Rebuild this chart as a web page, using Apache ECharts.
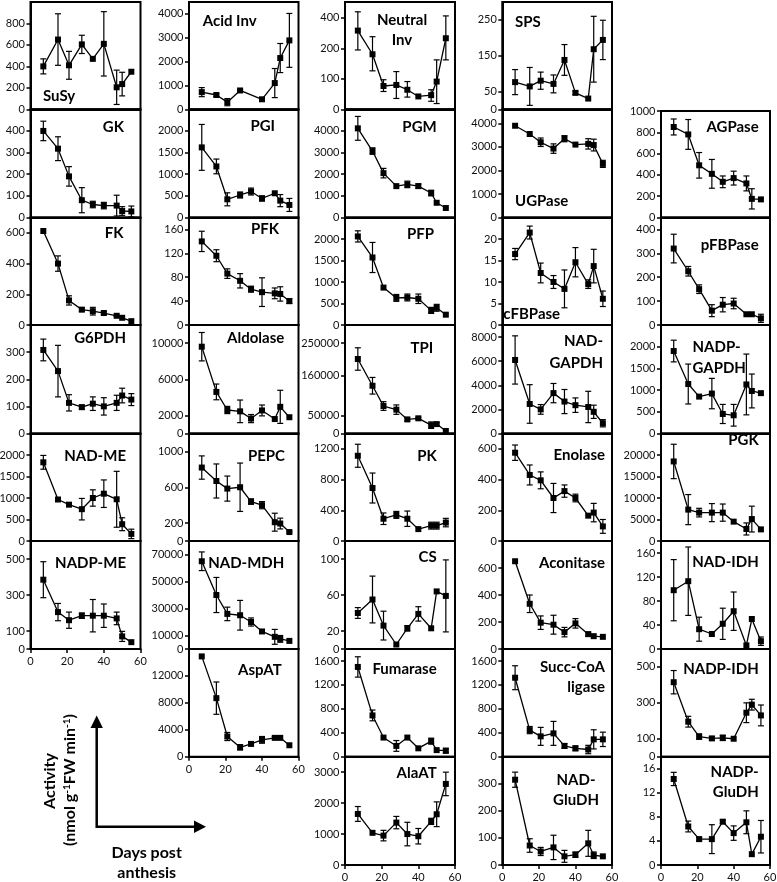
<!DOCTYPE html>
<html><head><meta charset="utf-8">
<script src="https://cdn.jsdelivr.net/npm/echarts@6.0.0/dist/echarts.min.js"></script>
<style>html,body{margin:0;padding:0;background:#fff}#c{width:777px;height:882px}</style>
</head><body><div id="c"></div>
<script>
// ---- data ----
const days = [7, 15, 21, 28, 34, 40, 47, 50, 55];
const ticks_days = [0, 20, 40, 60];

const SuSy = [400, 650, 410, 605, 470, 610, 205, 235, 350];
const SuSy_err = [70, 240, 130, 85, 0, 300, 160, 110, 0];
const GK = [400, 318, 190, 80, 60, 55, 55, 30, 28];
const GK_err = [45, 55, 45, 58, 15, 15, 48, 20, 25];
const FK = [612, 400, 160, 100, 90, 78, 60, 47, 25];
const FK_err = [0, 50, 30, 12, 25, 10, 5, 0, 0];
const G6PDH = [308, 230, 113, 97, 110, 100, 113, 140, 125];
const G6PDH_err = [40, 95, 30, 8, 25, 32, 28, 27, 22];
const NAD_ME = [1830, 965, 845, 740, 1000, 1100, 970, 390, 165];
const NAD_ME_err = [160, 0, 0, 250, 190, 320, 650, 150, 110];
const NADP_ME = [385, 205, 160, 185, 185, 185, 170, 70, 38];
const NADP_ME_err = [100, 48, 45, 15, 90, 65, 35, 28, 0];

const Acid_Inv = [720, 600, 300, 790, null, 420, 1100, 2150, 2890];
const Acid_Inv_err = [190, 60, 150, 30, 0, 0, 610, 610, 1130];
const PGI = [1620, 1180, 420, 520, 600, 440, 560, 390, 290];
const PGI_err = [530, 170, 150, 70, 80, 60, 0, 140, 150];
const PFK = [140, 116, 86, 74, 60, 55, 53, 52, 40];
const PFK_err = [17, 10, 8, 12, 5, 24, 9, 12, 4];
const Aldolase = [9600, 4600, 2600, 2450, 1650, 2550, 1600, 2950, 1800];
const Aldolase_err = [1570, 870, 400, 1250, 450, 600, 0, 1830, 0];
const PEPC = [820, 670, 585, 600, 440, 400, 210, 195, 100];
const PEPC_err = [130, 190, 140, 270, 30, 40, 100, 60, 10];
const NAD_MDH = [65000, 40000, 26000, 25000, 20000, 13000, 9000, 7500, 6000];
const NAD_MDH_err = [6900, 13000, 5000, 11000, 3000, 0, 5500, 2500, 0];
const AspAT = [14900, 8700, 3000, 1400, 1900, 2500, 2800, 2800, 1700];
const AspAT_err = [0, 2400, 600, 400, 250, 500, 200, 0, 0];

const Neutral_Inv = [300, 175, 85, 87, 78, 67, 69, 94, 252];
const Neutral_Inv_lo = [193, 120, 75, 64, 66, 67, 60, 57, 154];
const Neutral_Inv_hi = [460, 261, 98, 118, 94, 67, 78, 154, 419];
const PGM = [4120, 3070, 2050, 1450, 1530, 1450, 1130, 680, 440];
const PGM_err = [550, 150, 220, 0, 150, 100, 130, 0, 0];
const PFP = [2060, 1570, 870, 630, 640, 610, 340, 400, 240];
const PFP_err = [130, 350, 0, 80, 80, 110, 70, 80, 0];
const TPI = [206000, 132000, 76000, 66000, 39000, 42000, 23000, 26000, 7000];
const TPI_err = [31000, 23000, 12000, 13000, 4000, 3000, 9000, 4000, 0];
const PK = [1110, 690, 290, 340, 290, 155, 200, 200, 240];
const PK_err = [150, 195, 75, 45, 100, 0, 45, 45, 55];
const CS = [40, 55, 26, 5, 23, 39, 23, 64, 59];
const CS_err = [6, 26, 16, 0, 3, 8, 0, 0, 40];
const Fumarase = [1500, 690, 320, 180, 320, 140, 260, 110, 100];
const Fumarase_err = [170, 90, 0, 90, 0, 0, 50, 0, 40];
const AlaAT = [1650, 1040, 950, 1370, 1000, 930, 1410, 1640, 2620];
const AlaAT_err = [240, 0, 170, 200, 380, 250, 100, 400, 380];

const SPS = [76, 64, 80, 71, 138, 46, 30, 168, 194];
const SPS_err = [35, 53, 24, 25, 43, 5, 0, 92, 55];
const UGPase = [3900, 3550, 3200, 2930, 3350, 3100, 3130, 3080, 2280];
const UGPase_err = [0, 0, 180, 200, 130, 0, 220, 250, 150];
const cFBPase = [16.5, 21.5, 12.1, 10, 8.4, 14.6, 9.5, 13.7, 6.1];
const cFBPase_err = [1.3, 1.5, 2.3, 1.5, 4.4, 3.4, 1, 3.9, 1.8];
const NAD_GAPDH = [6100, 2450, 2000, 3350, 2650, 2350, 2200, 1800, 850];
const NAD_GAPDH_err = [2000, 1600, 400, 800, 1000, 600, 1300, 550, 300];
const Enolase = [575, 430, 395, 280, 325, 280, 165, 185, 95];
const Enolase_err = [50, 65, 55, 95, 40, 25, 0, 60, 45];
const Aconitase = [650, 335, 195, 180, 125, 190, 110, 95, 90];
const Aconitase_err = [0, 65, 50, 70, 35, 35, 15, 0, 0];
const Succ_CoA = [1320, 445, 340, 390, 180, 140, 120, 290, 290];
const Succ_CoA_err = [200, 60, 150, 200, 40, 40, 70, 160, 120];
const NAD_GluDH = [315, 72, 50, 65, 32, 38, 80, 36, 32];
const NAD_GluDH_err = [28, 25, 15, 45, 22, 10, 48, 12, 0];

const AGPase = [850, 780, 490, 410, 335, 370, 320, 175, 170];
const AGPase_err = [75, 140, 120, 135, 55, 65, 70, 95, 0];
const pFBPase = [320, 225, 150, 60, 85, 90, 45, 45, 28];
const pFBPase_err = [60, 20, 18, 25, 30, 22, 0, 0, 17];
const NADP_GAPDH = [1900, 1140, 850, 920, 450, 420, 1130, 980, 930];
const NADP_GAPDH_err = [250, 460, 0, 350, 220, 250, 700, 390, 0];
const PGK = [18500, 7300, 6600, 6600, 6600, 4500, 2800, 5100, 2700];
const PGK_err = [4000, 3500, 1000, 2100, 2000, 0, 1400, 3000, 0];
const NAD_IDH = [98, 113, 33, 25, 42, 63, 6, 50, 13];
const NAD_IDH_err = [51, 57, 20, 0, 26, 32, 0, 0, 7];
const NADP_IDH = [415, 195, 112, 102, 105, 100, 245, 290, 230];
const NADP_IDH_err = [65, 30, 15, 10, 15, 0, 55, 30, 58];
const NADP_GluDH = [14.3, 6.4, 4.3, 4.3, 7.2, 5.3, 7.1, 1.8, 4.7];
const NADP_GluDH_err = [1.1, 0.9, 0.3, 2.4, 0.3, 1.2, 1.9, 0, 2.7];

// tick values
const ticks_SuSy = [0, 200, 400, 600, 800];
const ticks_GK = [0, 100, 200, 300, 400];
const ticks_FK = [0, 200, 400, 600];
const ticks_G6PDH = [0, 100, 200, 300];
const ticks_NAD_ME = [0, 500, 1000, 1500, 2000];
const ticks_NADP_ME = [0, 100, 300, 500];
const ticks_Acid_Inv = [0, 1000, 2000, 3000, 4000];
const ticks_PGI = [0, 500, 1000, 1500, 2000];
const ticks_PFK = [0, 40, 80, 120, 160];
const ticks_Aldolase = [0, 2000, 6000, 10000];
const ticks_PEPC = [0, 200, 600, 1000];
const ticks_NAD_MDH = [0, 10000, 30000, 50000, 70000];
const ticks_AspAT = [0, 4000, 8000, 12000];
const ticks_Neutral_Inv = [50, 100, 200, 400];
const labels_Neutral_Inv = ['0', '100', '200', '400'];
const ticks_PGM = [0, 1000, 2000, 3000, 4000];
const ticks_PFP = [0, 500, 1000, 1500, 2000];
const ticks_TPI = [0, 50000, 160000, 250000];
const ticks_PK = [0, 400, 800, 1200];
const ticks_CS = [0, 20, 60, 100];
const ticks_Fumarase = [0, 400, 800, 1200, 1600];
const ticks_AlaAT = [0, 1000, 2000, 3000];
const ticks_SPS = [0, 50, 150, 250];
const ticks_UGPase = [0, 1000, 2000, 3000, 4000];
const ticks_cFBPase = [0, 5, 10, 15, 20];
const ticks_NAD_GAPDH = [0, 2000, 4000, 6000, 8000];
const ticks_Enolase = [0, 200, 400, 600];
const ticks_Aconitase = [0, 200, 400, 600];
const ticks_Succ_CoA = [0, 400, 800, 1200, 1600];
const ticks_NAD_GluDH = [0, 100, 200, 300];
const ticks_AGPase = [0, 200, 400, 600, 800, 1000];
const ticks_pFBPase = [0, 100, 200, 300, 400];
const ticks_NADP_GAPDH = [0, 500, 1000, 1500, 2000];
const ticks_PGK = [0, 5000, 10000, 15000, 20000];
const ticks_NAD_IDH = [0, 40, 80, 120, 160];
const ticks_NADP_IDH = [0, 100, 300, 500];
const ticks_NADP_GluDH = [0, 4, 8, 12, 16];

// ---- layout ----
const COLS = [[30.5, 140.5], [189, 298.5], [345, 455], [502.3, 612], [661, 770]];
const ROWS = [2, 109.3, 217.5, 325, 433.5, 541, 649, 756.7, 865];
const FONT = 'Lato, "Open Sans", sans-serif';

const panels = [
  {t: 'SuSy', c: 0, r: 0, v: SuSy, e: SuSy_err, max: 1000, k: ticks_SuSy, tx: 43, ty: 96, a: 'left'},
  {t: 'GK', c: 0, r: 1, v: GK, e: GK_err, max: 500, k: ticks_GK, tx: 124, ty: 126.7, a: 'right'},
  {t: 'FK', c: 0, r: 2, v: FK, e: FK_err, max: 700, k: ticks_FK, tx: 123.5, ty: 233.3, a: 'right'},
  {t: 'G6PDH', c: 0, r: 3, v: G6PDH, e: G6PDH_err, max: 400, k: ticks_G6PDH, tx: 126, ty: 338.3, a: 'right'},
  {t: 'NAD-ME', c: 0, r: 4, v: NAD_ME, e: NAD_ME_err, max: 2500, k: ticks_NAD_ME, tx: 126, ty: 455.7, a: 'right'},
  {t: 'NADP-ME', c: 0, r: 5, v: NADP_ME, e: NADP_ME_err, max: 600, k: ticks_NADP_ME, tx: 126, ty: 562.7, a: 'right', bottom: true},

  {t: 'Acid Inv', c: 1, r: 0, v: Acid_Inv, e: Acid_Inv_err, max: 4500, k: ticks_Acid_Inv, tx: 202.7, ty: 20.7, a: 'left'},
  {t: 'PGI', c: 1, r: 1, v: PGI, e: PGI_err, max: 2500, k: ticks_PGI, tx: 275, ty: 126, a: 'right'},
  {t: 'PFK', c: 1, r: 2, v: PFK, e: PFK_err, max: 180, k: ticks_PFK, tx: 279, ty: 229.3, a: 'right'},
  {t: 'Aldolase', c: 1, r: 3, v: Aldolase, e: Aldolase_err, max: 12000, k: ticks_Aldolase, tx: 284.3, ty: 338.3, a: 'right'},
  {t: 'PEPC', c: 1, r: 4, v: PEPC, e: PEPC_err, max: 1200, k: ticks_PEPC, tx: 285, ty: 456, a: 'right'},
  {t: 'NAD-MDH', c: 1, r: 5, v: NAD_MDH, e: NAD_MDH_err, max: 80000, k: ticks_NAD_MDH, tx: 284.3, ty: 563.3, a: 'right'},
  {t: 'AspAT', c: 1, r: 6, v: AspAT, e: AspAT_err, max: 16000, k: ticks_AspAT, tx: 281.7, ty: 670, a: 'right', bottom: true},

  {t: 'Neutral\nInv', c: 2, r: 0, v: Neutral_Inv, lo: Neutral_Inv_lo, hi: Neutral_Inv_hi, log: true, min: 50, max: 575,
   k: ticks_Neutral_Inv, lab: labels_Neutral_Inv, tx: 402, ty: 30.3, a: 'center', lh: 19.5},
  {t: 'PGM', c: 2, r: 1, v: PGM, e: PGM_err, max: 5000, k: ticks_PGM, tx: 436.7, ty: 127.3, a: 'right'},
  {t: 'PFP', c: 2, r: 2, v: PFP, e: PFP_err, max: 2500, k: ticks_PFP, tx: 434, ty: 234.3, a: 'right'},
  {t: 'TPI', c: 2, r: 3, v: TPI, e: TPI_err, max: 300000, k: ticks_TPI, tx: 433.3, ty: 348.3, a: 'right'},
  {t: 'PK', c: 2, r: 4, v: PK, e: PK_err, max: 1400, k: ticks_PK, tx: 436.7, ty: 455.7, a: 'right'},
  {t: 'CS', c: 2, r: 5, v: CS, e: CS_err, max: 120, k: ticks_CS, tx: 436.7, ty: 556.7, a: 'right'},
  {t: 'Fumarase', c: 2, r: 6, v: Fumarase, e: Fumarase_err, max: 1800, k: ticks_Fumarase, tx: 436.7, ty: 669.3, a: 'right'},
  {t: 'AlaAT', c: 2, r: 7, v: AlaAT, e: AlaAT_err, max: 3500, k: ticks_AlaAT, tx: 436.7, ty: 772.7, a: 'right', bottom: true},

  {t: 'SPS', c: 3, r: 0, v: SPS, e: SPS_err, max: 300, k: ticks_SPS, tx: 515, ty: 21.7, a: 'left'},
  {t: 'UGPase', c: 3, r: 1, v: UGPase, e: UGPase_err, max: 4600, k: ticks_UGPase, tx: 515, ty: 201, a: 'left'},
  {t: 'cFBPase', c: 3, r: 2, v: cFBPase, e: cFBPase_err, max: 25, k: ticks_cFBPase, tx: 503.3, ty: 314.3, a: 'left'},
  {t: 'NAD-\nGAPDH', c: 3, r: 3, v: NAD_GAPDH, e: NAD_GAPDH_err, max: 9000, k: ticks_NAD_GAPDH, tx: 603, ty: 352, a: 'right', lh: 22},
  {t: 'Enolase', c: 3, r: 4, v: Enolase, e: Enolase_err, max: 700, k: ticks_Enolase, tx: 605, ty: 455, a: 'right'},
  {t: 'Aconitase', c: 3, r: 5, v: Aconitase, e: Aconitase_err, max: 800, k: ticks_Aconitase, tx: 605, ty: 563.3, a: 'right'},
  {t: 'Succ-CoA\nligase', c: 3, r: 6, v: Succ_CoA, e: Succ_CoA_err, max: 1800, k: ticks_Succ_CoA, tx: 605, ty: 677, a: 'right', lh: 20.6},
  {t: 'NAD-\nGluDH', c: 3, r: 7, v: NAD_GluDH, e: NAD_GluDH_err, max: 400, k: ticks_NAD_GluDH, tx: 576, ty: 790.3, a: 'center', lh: 20.7, bottom: true},

  {t: 'AGPase', c: 4, r: 1, top: 111, v: AGPase, e: AGPase_err, max: 1000, k: ticks_AGPase, tx: 758.7, ty: 127.3, a: 'right'},
  {t: 'pFBPase', c: 4, r: 2, v: pFBPase, e: pFBPase_err, max: 450, k: ticks_pFBPase, tx: 758.7, ty: 245, a: 'right'},
  {t: 'NADP-\nGAPDH', c: 4, r: 3, v: NADP_GAPDH, e: NADP_GAPDH_err, max: 2500, k: ticks_NADP_GAPDH, tx: 692.5, ty: 357.8, a: 'left', lh: 21},
  {t: 'PGK', c: 4, r: 4, v: PGK, e: PGK_err, max: 25000, k: ticks_PGK, tx: 758.7, ty: 440, a: 'right'},
  {t: 'NAD-IDH', c: 4, r: 5, v: NAD_IDH, e: NAD_IDH_err, max: 180, k: ticks_NAD_IDH, tx: 758.7, ty: 561.7, a: 'right'},
  {t: 'NADP-IDH', c: 4, r: 6, v: NADP_IDH, e: NADP_IDH_err, max: 600, k: ticks_NADP_IDH, tx: 758.7, ty: 669.3, a: 'right'},
  {t: 'NADP-\nGluDH', c: 4, r: 7, v: NADP_GluDH, e: NADP_GluDH_err, max: 18, k: ticks_NADP_GluDH, tx: 758.7, ty: 782.3, a: 'right', lh: 20, bottom: true}
];

function renderErr(params, api) {
  const x = api.value(0), lo = api.value(1), hi = api.value(2);
  if (!(hi > lo)) return null;
  const p1 = api.coord([x, hi]), p2 = api.coord([x, lo]);
  const w = 3, st = {stroke: '#000', lineWidth: 1.2};
  return {type: 'group', children: [
    {type: 'line', shape: {x1: p1[0], y1: p1[1], x2: p2[0], y2: p2[1]}, style: st},
    {type: 'line', shape: {x1: p1[0] - w, y1: p1[1], x2: p1[0] + w, y2: p1[1]}, style: st},
    {type: 'line', shape: {x1: p2[0] - w, y1: p2[1], x2: p2[0] + w, y2: p2[1]}, style: st}
  ]};
}

const plain = v => String(v);
const LFS = 11;
const grid = [], xAxis = [], yAxis = [], series = [], graphic = [];
panels.forEach((p, i) => {
  const [l, r] = COLS[p.c];
  const top = p.top != null ? p.top : ROWS[p.r];
  const bot = ROWS[p.r + 1];
  grid.push({left: l, top: top, width: r - l, height: bot - top, show: true,
    borderColor: '#000', borderWidth: 2, containLabel: false, outerBoundsMode: 'none'});
  xAxis.push({type: 'value', gridIndex: i, min: 0, max: 60, interval: 20,
    splitLine: {show: false},
    axisLine: {show: true, onZero: false, lineStyle: {color: '#000', width: 2}},
    axisTick: {show: !!p.bottom, length: 4, lineStyle: {color: '#000', width: 1.5}},
    axisLabel: {show: !!p.bottom, margin: 7, fontSize: LFS, color: '#111', fontFamily: FONT,
      customValues: ticks_days, formatter: plain}});
  const ya = {type: p.log ? 'log' : 'value', gridIndex: i, min: p.log ? p.min : 0, max: p.max,
    splitLine: {show: false},
    axisLine: {show: true, onZero: false, lineStyle: {color: '#000', width: 2}},
    axisTick: {show: true, length: 4, lineStyle: {color: '#000', width: 1.5}, customValues: p.k},
    axisLabel: {margin: 5.5, fontSize: LFS, color: '#111', fontFamily: FONT, customValues: p.k, formatter: plain}};
  if (p.log) {
    ya.logBase = 2;
    ya.axisLabel.formatter = v => { const j = p.k.findIndex(k => Math.abs(k - v) < 1e-6 * k); return j >= 0 ? p.lab[j] : ''; };
  }
  yAxis.push(ya);
  const pts = [], errs = [];
  days.forEach((d, j) => {
    const v = p.v[j];
    if (v == null) return;
    pts.push([d, v]);
    let lo, hi;
    if (p.lo) { lo = p.lo[j]; hi = p.hi[j]; }
    else { lo = Math.max(0, v - p.e[j]); hi = v + p.e[j]; }
    errs.push([d, lo, hi]);
  });
  series.push({type: 'custom', xAxisIndex: i, yAxisIndex: i, data: errs, renderItem: renderErr,
    encode: {x: 0, y: [1, 2]}, z: 2, silent: true});
  series.push({type: 'line', xAxisIndex: i, yAxisIndex: i, data: pts, symbol: 'rect', symbolSize: 6,
    lineStyle: {color: '#000', width: 1.3}, itemStyle: {color: '#000'}, z: 3, silent: true});
  graphic.push({type: 'text', x: p.tx, y: p.ty, z: 10, silent: true,
    style: {text: p.t, fill: '#000', fontFamily: FONT, fontWeight: 'bold', fontSize: 15,
      align: p.a, verticalAlign: 'middle', lineHeight: p.lh || 18}});
});

// axis description
graphic.push({type: 'text', x: 50, y: 781, rotation: Math.PI / 2, silent: true,
  style: {text: 'Activity', fill: '#000', fontFamily: FONT, fontWeight: 'bold', fontSize: 16,
    align: 'center', verticalAlign: 'middle'}});
graphic.push({type: 'text', x: 70, y: 780, rotation: Math.PI / 2, silent: true,
  style: {text: '(nmol g{s|-1}FW min{s|-1})', fill: '#000', fontFamily: FONT, fontWeight: 'bold', fontSize: 16,
    align: 'center', verticalAlign: 'middle',
    rich: {s: {fontSize: 10, fontWeight: 'bold', fontFamily: FONT, fill: '#000', verticalAlign: 'top', lineHeight: 10}}}});
graphic.push({type: 'text', x: 146.7, y: 863, silent: true,
  style: {text: 'Days post\nanthesis', fill: '#000', fontFamily: FONT, fontWeight: 'bold', fontSize: 16,
    align: 'center', verticalAlign: 'middle', lineHeight: 20}});
graphic.push({type: 'polyline', silent: true, shape: {points: [[96.7, 726], [96.7, 826.7], [196, 826.7]]},
  style: {stroke: '#000', lineWidth: 2.5, fill: null}});
graphic.push({type: 'polygon', silent: true, shape: {points: [[96.7, 715.5], [90.5, 728], [102.9, 728]]},
  style: {fill: '#000'}});
graphic.push({type: 'polygon', silent: true, shape: {points: [[206, 826.7], [194, 820.5], [194, 832.9]]},
  style: {fill: '#000'}});

const chart = echarts.init(document.getElementById('c'), null, {renderer: 'canvas'});
chart.setOption({animation: false, grid, xAxis, yAxis, series, graphic});
</script></body></html>
